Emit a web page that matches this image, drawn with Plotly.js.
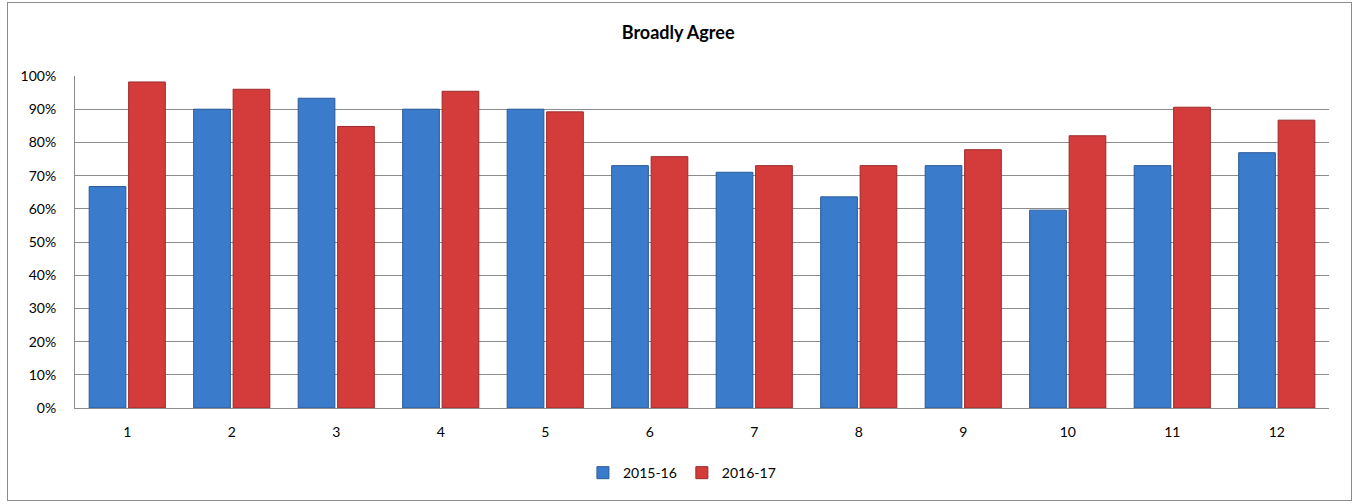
<!DOCTYPE html>
<html>
<head>
<meta charset="utf-8">
<script src="https://cdn.plot.ly/plotly-3.0.1.min.js"></script>
<style>
  html, body { margin: 0; padding: 0; background: #fff; }
  #wrap { position: relative; width: 1359px; height: 504px; }
  #frame { position: absolute; left: 7px; top: 2px; width: 1345px; height: 499px; border: 1px solid #8c8c8c; box-sizing: border-box; pointer-events: none; }
  #chart { position: absolute; left: 0; top: 0; width: 1359px; height: 504px; }
</style>
</head>
<body>
<div id="wrap">
  <div id="chart"></div>
  <div id="frame"></div>
</div>
<script>
const categories = ['1','2','3','4','5','6','7','8','9','10','11','12'];
const series2015 = [66.7, 90, 93.3, 90, 90, 73, 71, 63.6, 73, 59.6, 73, 76.9];
const series2016 = [98.2, 96, 84.8, 95.4, 89.2, 75.7, 73, 73, 77.8, 82, 90.6, 86.7];
const seriesNames = ['2015-16', '2016-17'];

const traces = [
  {
    type: 'bar', name: seriesNames[0], x: categories, y: series2015,
    marker: { color: '#3b7bcc', line: { color: '#2a5a98', width: 1 } },
    hoverinfo: 'x+y'
  },
  {
    type: 'bar', name: seriesNames[1], x: categories, y: series2016,
    marker: { color: '#d43b3b', line: { color: '#9c2a2a', width: 1 } },
    hoverinfo: 'x+y'
  }
];

const layout = {
  width: 1359, height: 504,
  margin: { l: 75, r: 30, t: 76, b: 96 },
  paper_bgcolor: '#ffffff', plot_bgcolor: '#ffffff',
  font: { family: 'Lato, "Open Sans", sans-serif', size: 14, color: '#000' },
  title: { text: '<b>Broadly Agree</b>', x: 0.499, xref: 'container', xanchor: 'center', y: 0.935, yanchor: 'middle', font: { size: 18, family: 'Lato, sans-serif', color: '#000' } },
  barmode: 'group', bargap: 0.245, bargroupgap: 0.07,
  xaxis: {
    type: 'category', showgrid: false, zeroline: false,
    showline: true, linecolor: '#8c8c8c', linewidth: 1,
    ticks: '', tickfont: { size: 14 }, ticklabelstandoff: 11
  },
  yaxis: {
    range: [0, 100], dtick: 10, ticksuffix: '%',
    showgrid: true, gridcolor: '#8c8c8c', gridwidth: 1,
    zeroline: false, showline: true, linecolor: '#8c8c8c', linewidth: 1,
    ticks: '', tickfont: { size: 14 }, ticklabelstandoff: 15
  },
  legend: {
    orientation: 'h', x: 0.484, xanchor: 'center', y: -0.196, yanchor: 'middle',
    font: { size: 14 }, itemwidth: 30, traceorder: 'normal'
  },
  showlegend: true
};

Plotly.newPlot('chart', traces, layout, { displayModeBar: false, staticPlot: true });
</script>
</body>
</html>
